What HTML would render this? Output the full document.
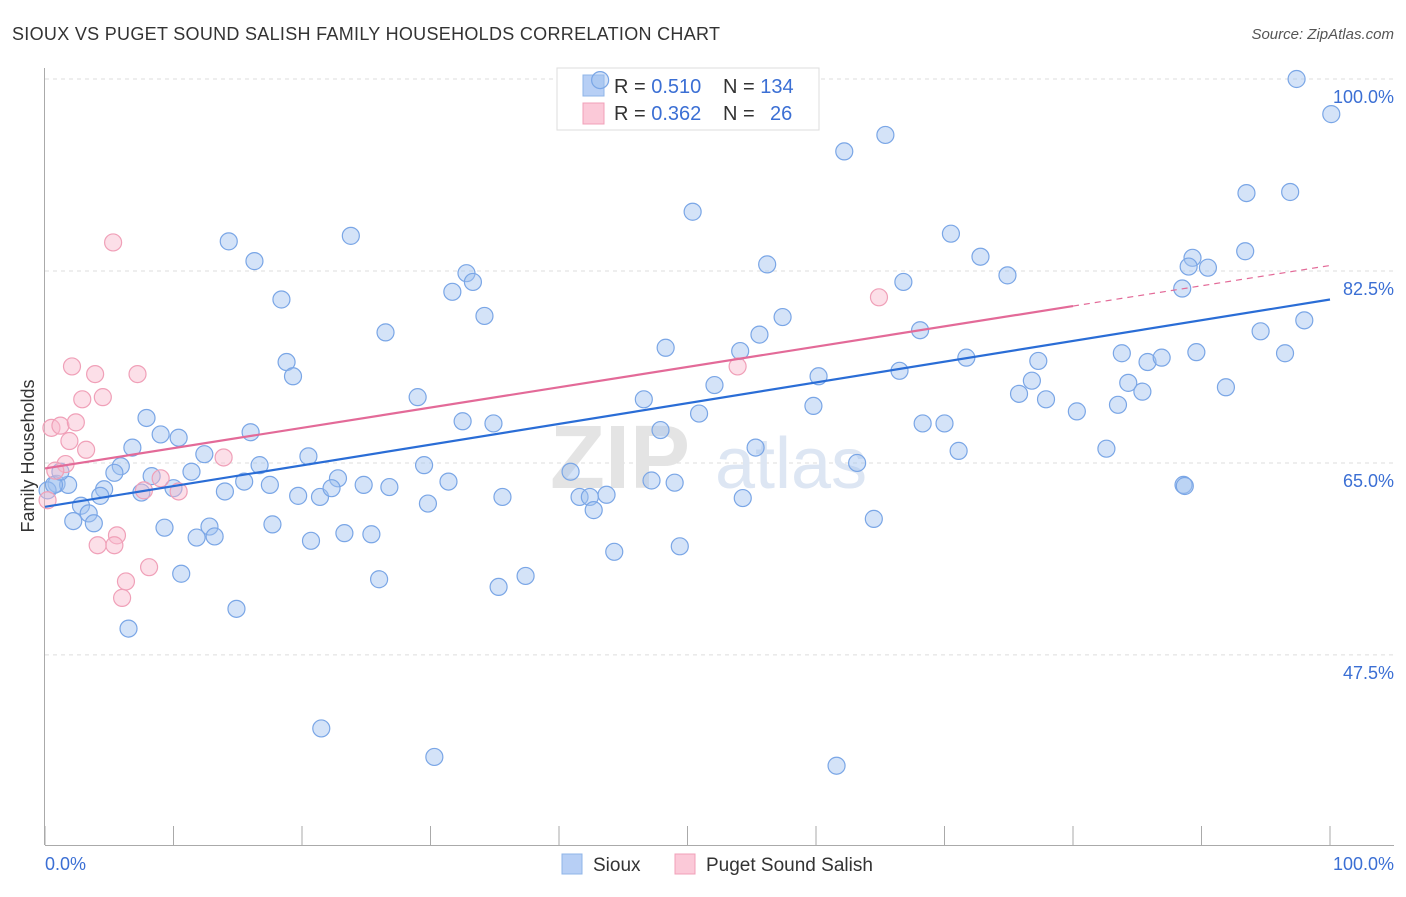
<!DOCTYPE html>
<html><head><meta charset="utf-8"><style>
body{margin:0;background:#fff;font-family:"Liberation Sans",sans-serif;}
svg text{font-family:"Liberation Sans",sans-serif;}
</style></head><body>
<svg id="chart" width="1406" height="892" xmlns="http://www.w3.org/2000/svg">
<text x="12" y="40" font-size="18" fill="#333" textLength="708">SIOUX VS PUGET SOUND SALISH FAMILY HOUSEHOLDS CORRELATION CHART</text>
<text x="1394" y="39" font-size="15" fill="#555" text-anchor="end" font-style="italic">Source: ZipAtlas.com</text>
<g id="grid"></g>
<text x="690" y="488" font-size="90" fill="#e4e4e4" text-anchor="end" font-weight="bold" font-family="Liberation Serif">ZIP</text>
<text x="715" y="488" font-size="72" fill="#dde6f3">atlas</text>
<g id="axes"></g>
<g>
<rect x="557" y="68" width="262" height="62" fill="#fff" stroke="#ddd"/>
<rect x="583" y="75" width="21" height="21" fill="#b7cff5" stroke="#8fb4e8"/>
<rect x="583" y="103" width="21" height="21" fill="#fbc9d8" stroke="#f0a0b8"/>
<text x="614" y="93" font-size="20" fill="#333">R = <tspan fill="#3b6fd4">0.510</tspan><tspan x="723">N = </tspan><tspan fill="#3b6fd4">134</tspan></text>
<text x="614" y="120" font-size="20" fill="#333">R = <tspan fill="#3b6fd4">0.362</tspan><tspan x="723">N = </tspan><tspan x="770" fill="#3b6fd4">26</tspan></text>
</g>
<g id="pts"></g>
<g id="lines"></g>
<text transform="translate(34,456) rotate(-90)" font-size="18" fill="#333" text-anchor="middle">Family Households</text>
<text x="45" y="870" font-size="18" fill="#3b6fd4">0.0%</text>
<text x="1394" y="870" font-size="18" fill="#3b6fd4" text-anchor="end">100.0%</text>
<g>
<rect x="562" y="854" width="20" height="20" fill="#b7cff5" stroke="#8fb4e8"/>
<text x="593" y="871" font-size="19" fill="#333">Sioux</text>
<rect x="675" y="854" width="20" height="20" fill="#fbc9d8" stroke="#f0a0b8"/>
<text x="706" y="871" font-size="19" fill="#333">Puget Sound Salish</text>
</g>
</svg>
<script>
const yTicks=[100,82.5,65,47.5];
const yTickLabels=["100.0%","82.5%","65.0%","47.5%"];
const xTicks=[0,10,20,30,40,50,60,70,80,90,100];
const siouxX=[43.2,97.4,100.1,65.4,62.2,50.4,93.5,96.9,14.3,23.8,16.3,70.5,72.8,93.4,89.3,89.0,90.5,56.2,32.8,33.3,31.7,74.9,66.8,88.5,18.4,34.2,57.4,98,26.5,68.1,94.6,55.6,48.3,54.1,83.8,89.6,96.5,18.8,71.7,85.8,86.9,77.3,19.3,60.2,66.5,76.8,52.1,84.3,85.4,91.9,29,46.6,75.8,77.9,59.8,83.5,80.3,50.9,7.9,32.5,34.9,68.3,70,47.9,9,16,10.4,6.8,55.3,12.4,82.6,71.1,20.5,5.9,16.7,29.5,63.2,11.4,5.4,8.3,40.9,15.5,17.5,22.8,31.4,47.2,49,0.9,1.8,4.6,10,24.8,26.8,7.5,14,19.7,21.4,22.3,35.6,41.6,42.4,43.7,54.3,4.3,2.8,29.8,42.7,3.4,2.2,3.8,64.5,9.3,12.8,17.7,88.6,88.7,11.8,13.2,20.7,23.3,25.4,44.3,49.4,10.6,26,37.4,35.3,14.9,6.5,21.5,30.3,61.6,0.2,0.7,1.2];
const siouxY=[99.9,100,96.8,94.9,93.4,87.9,89.6,89.7,85.2,85.7,83.4,85.9,83.8,84.3,83.7,82.9,82.8,83.1,82.3,81.5,80.6,82.1,81.5,80.9,79.9,78.4,78.3,78,76.9,77.1,77,76.7,75.5,75.2,75,75.1,75,74.2,74.6,74.2,74.6,74.3,72.9,72.9,73.4,72.5,72.1,72.3,71.5,71.9,71.0,70.8,71.3,70.8,70.2,70.3,69.7,69.5,69.1,68.8,68.6,68.6,68.6,68,67.6,67.8,67.3,66.4,66.4,65.8,66.3,66.1,65.6,64.7,64.8,64.8,65,64.2,64.1,63.8,64.2,63.3,63,63.6,63.3,63.4,63.2,63.1,63,62.6,62.7,63,62.8,62.3,62.4,62,61.9,62.7,61.9,61.9,61.9,62.1,61.8,62,61.1,61.3,60.7,60.4,59.7,59.5,59.9,59.1,59.2,59.4,63,62.9,58.2,58.3,57.9,58.6,58.5,56.9,57.4,54.9,54.4,54.7,53.7,51.7,49.9,40.8,38.2,37.4,62.5,63,64.2];
const pugetX=[5.3,2.1,3.9,7.2,2.9,4.5,0.5,1.2,2.4,1.9,3.2,13.9,1.6,0.2,7.7,9,10.4,5.6,4.1,5.4,6.3,8.1,6,53.9,64.9,0.8];
const pugetY=[85.1,73.8,73.1,73.1,70.8,71,68.2,68.4,68.7,67,66.2,65.5,64.9,61.6,62.5,63.6,62.4,58.4,57.5,57.5,54.2,55.5,52.7,73.8,80.1,64.3];
const siouxTrend=[61.0,79.9];
const pugetTrend=[64.5,83.0];
const pugetSolidEnd=80;
const NS="http://www.w3.org/2000/svg";
const X=v=>45+v*12.85, Y=v=>79+(100-v)*10.97;
function mk(t,a,p){const e=document.createElementNS(NS,t);for(const k in a)e.setAttribute(k,a[k]);p.appendChild(e);return e;}
const grid=document.getElementById('grid'),axes=document.getElementById('axes'),pts=document.getElementById('pts'),lines=document.getElementById('lines');
yTicks.forEach((t,i)=>{
 const l=mk('line',{x1:45,x2:1394,y1:Y(t),y2:Y(t),stroke:'#ddd','stroke-dasharray':'4,4'},grid);
 
 
 const tx=mk('text',{x:1394,y:Y(t)+24,'font-size':18,fill:'#3b6fd4','text-anchor':'end'},axes);
 tx.textContent=yTickLabels[i];
 
 
});
const ya=mk('line',{x1:44.5,x2:44.5,y1:68,y2:845,stroke:'#aaa'},axes);


const xa=mk('line',{x1:45,x2:1394,y1:845.5,y2:845.5,stroke:'#aaa'},axes);


xTicks.forEach(t=>{
 const l=mk('line',{x1:X(t),x2:X(t),y1:826,y2:845,stroke:'#aaa'},axes);
 
 
});
siouxX.forEach((v,i)=>{
 const c=mk('circle',{cx:X(v),cy:Y(siouxY[i]),r:8.5,fill:'rgba(160,192,240,0.45)',stroke:'#7aa6e6','stroke-width':1.2},pts);
 
 
});
pugetX.forEach((v,i)=>{
 const c=mk('circle',{cx:X(v),cy:Y(pugetY[i]),r:8.5,fill:'rgba(248,185,205,0.45)',stroke:'#f0a0b8','stroke-width':1.2},pts);
 
 
});
const sl=mk('line',{x1:X(0),y1:Y(siouxTrend[0]),x2:X(100),y2:Y(siouxTrend[1]),stroke:'#2a6dd6','stroke-width':2.2},lines);


const pf=v=>pugetTrend[0]+(pugetTrend[1]-pugetTrend[0])*v/100;
const pl=mk('line',{x1:X(0),y1:Y(pf(0)),x2:X(pugetSolidEnd),y2:Y(pf(pugetSolidEnd)),stroke:'#e36a98','stroke-width':2.2},lines);


const pd=mk('line',{x1:X(pugetSolidEnd),y1:Y(pf(pugetSolidEnd)),x2:X(100),y2:Y(pf(100)),stroke:'#e36a98','stroke-width':1.2,'stroke-dasharray':'6,5'},lines);


</script>
</body></html>
